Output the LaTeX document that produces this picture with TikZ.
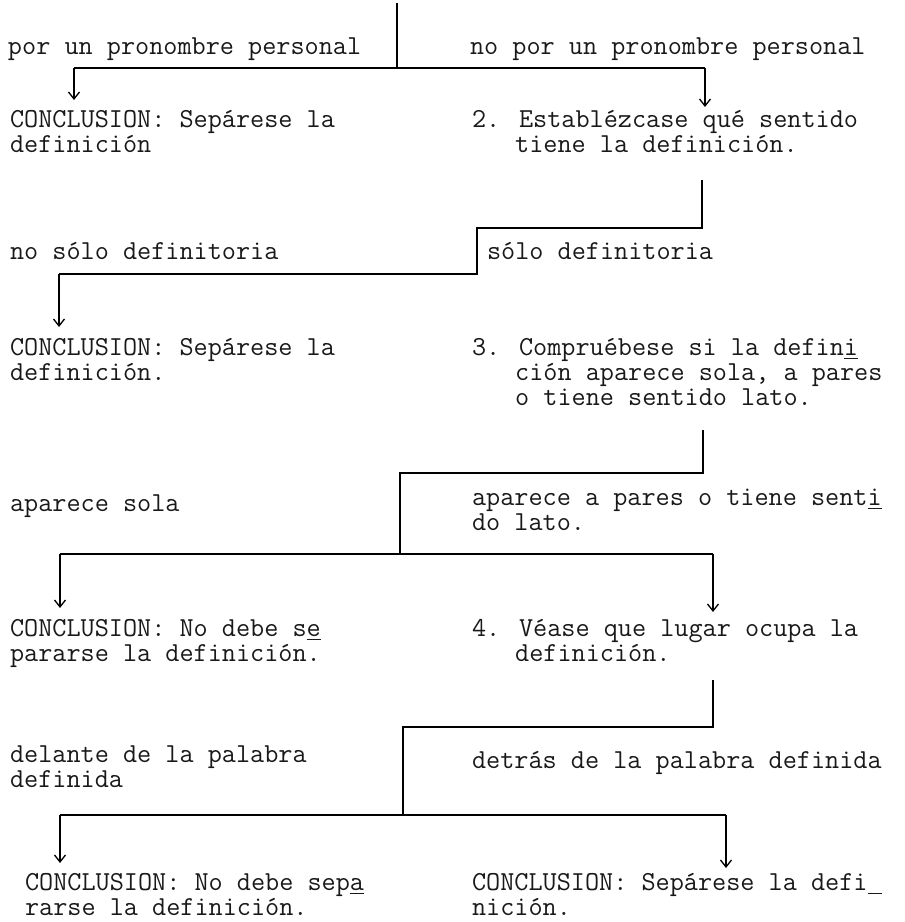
\documentclass[tikz,border=0pt]{standalone}
\usepackage{fontspec}
\usetikzlibrary{arrows.meta}
\newcommand\ind{\hspace*{43.2pt}}
\newcommand\tstrut{\rule{0pt}{22pt}}
\newcommand\ul[1]{\rlap{\rule[-4pt]{14.4pt}{1.2pt}}#1}
\newcommand\usc{\rule[-4pt]{14.4pt}{1.2pt}}
\begin{document}
\begin{tikzpicture}[x=1pt,y=-1pt,
  txt/.style={anchor=north west, inner sep=0pt, outer sep=0pt, align=left,
    font=\ttfamily\fontsize{27.43}{25}\selectfont, text=black!90,
    execute at begin node=\tstrut},
  ln/.style={line width=1.4pt, black},
  arr/.style={ln, -{Straight Barb[length=7pt,width=11pt,line width=1.3pt]}}]
\fill[white] (0,0) rectangle (905,922);
\useasboundingbox (0,0) rectangle (905,922);

% texts (baseline - 22)
\node[txt] (l0) at (8,32) {por un pronombre personal};
\node[txt] (r0) at (470,32) {no por un pronombre personal};
\node[txt] (l1) at (10,110) {CONCLUSION: Sepárese la\\definición};
\node[txt] (q2) at (472,110) {2. Establézcase qué sentido\\\ind tiene la definición.};
\node[txt] (l2) at (10,237) {no sólo definitoria};
\node[txt] (r2) at (487,237) {sólo definitoria};
\node[txt] (l3) at (10,338) {CONCLUSION: Sepárese la\\definición.};
\node[txt] (q3) at (472,338) {3. Compruébese si la defin\ul{i}\\\ind ción aparece sola, a pares\\\ind o tiene sentido lato.};
\node[txt] (l4) at (10,489) {aparece sola};
\node[txt] (r4) at (472,489) {aparece a pares o tiene sent\ul{i}\\do lato.};
\node[txt] (l5) at (10,619) {CONCLUSION: No debe s\ul{e}\\pararse la definición.};
\node[txt] (q4) at (472,619) {4. Véase que lugar ocupa la\\\ind definición.};
\node[txt] (l6) at (10,746) {delante de la palabra\\definida};
\node[txt] (r6) at (472,746) {detrás de la palabra definida};
\node[txt] (l7) at (25,873) {CONCLUSION: No debe sep\ul{a}\\rarse la definición.};
\node[txt] (r7) at (472,873) {CONCLUSION: Sepárese la defi\usc\\nición.};

% junction coordinates
\coordinate (top) at (397,3);
\coordinate (j1) at (397,68);
\coordinate (j1l) at (74,68);
\coordinate (j1r) at (705,68);
\coordinate (t1l) at (74,100);
\coordinate (t1r) at (705,107);

\coordinate (o2) at (702,180);
\coordinate (j2) at (702,228);
\coordinate (j2a) at (477,228);
\coordinate (j2b) at (477,274);
\coordinate (j2l) at (59,274);
\coordinate (t2l) at (59,327);

\coordinate (o3) at (703,430);
\coordinate (j3) at (703,473);
\coordinate (j3a) at (400,473);
\coordinate (j3b) at (400,554);
\coordinate (j3l) at (60,554);
\coordinate (j3r) at (713,554);
\coordinate (t3l) at (60,608);
\coordinate (t3r) at (713,612);

\coordinate (o4) at (713,680);
\coordinate (j4) at (713,727);
\coordinate (j4a) at (403,727);
\coordinate (j4b) at (403,815);
\coordinate (j4l) at (60,815);
\coordinate (j4r) at (726,815);
\coordinate (t4l) at (60,863);
\coordinate (t4r) at (726,868);

% connectors
\draw[ln] (top) -- (j1);
\draw[ln] (j1l) -- (j1r);
\draw[arr] (j1l) -- (t1l);
\draw[arr] (j1r) -- (t1r);

\draw[ln] (o2) -- (j2) -- (j2a) -- (j2b) -- (j2l);
\draw[arr] (j2l) -- (t2l);

\draw[ln] (o3) -- (j3) -- (j3a) -- (j3b);
\draw[ln] (j3l) -- (j3r);
\draw[arr] (j3l) -- (t3l);
\draw[arr] (j3r) -- (t3r);

\draw[ln] (o4) -- (j4) -- (j4a) -- (j4b);
\draw[ln] (j4l) -- (j4r);
\draw[arr] (j4l) -- (t4l);
\draw[arr] (j4r) -- (t4r);
\end{tikzpicture}
\end{document}
